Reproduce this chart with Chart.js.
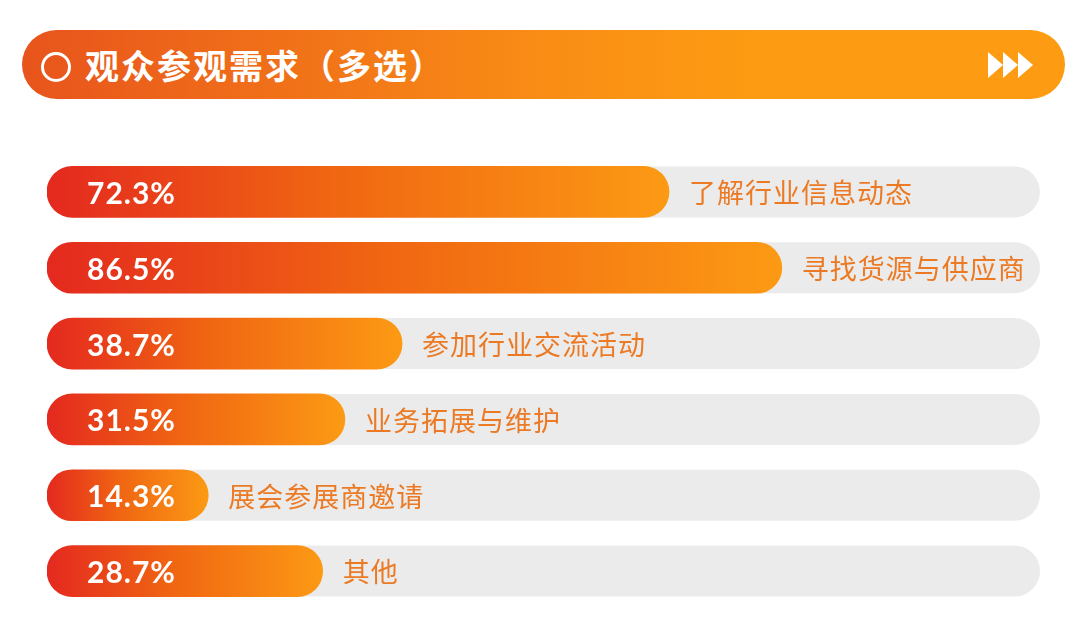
<!DOCTYPE html>
<html>
<head>
<meta charset="utf-8">
<script src="https://cdn.jsdelivr.net/npm/chart.js@4.4.0/dist/chart.umd.min.js"></script>
<style>
  body { margin: 0; width: 1080px; height: 630px; background: #fff; position: relative; overflow: hidden; font-family: "Noto Sans CJK SC", sans-serif; }
  .head { position: absolute; left: 22px; top: 30px; width: 1043px; height: 69px; border-radius: 35px;
          background: linear-gradient(90deg, #e8541c 0%, #f98d15 50%, #fd9b12 70%, #fd9b12 100%); }
  .ring { position: absolute; left: 19px; top: 22px; width: 24px; height: 24px; border: 3px solid #fff; border-radius: 50%; }
  .title { position: absolute; left: 63px; top: 0; line-height: 69px; font-size: 34px; font-weight: bold; color: #fff; letter-spacing: 2px; }
  .tri { position: absolute; top: 22px; width: 0; height: 0; border-left: 15px solid #fff; border-top: 13px solid transparent; border-bottom: 13px solid transparent; }
  .wrap { position: absolute; left: 0; top: 120px; width: 1080px; height: 510px; }
</style>
</head>
<body>
<div class="head">
  <div class="ring"></div>
  <div class="title">观众参观需求（多选）</div>
  <div class="tri" style="left:966px"></div>
  <div class="tri" style="left:981px"></div>
  <div class="tri" style="left:996px"></div>
</div>
<div class="wrap"><canvas id="needsChart"></canvas></div>
<script>
  // data
  const categories = ['了解行业信息动态', '寻找货源与供应商', '参加行业交流活动', '业务拓展与维护', '展会参展商邀请', '其他'];
  const shares = [72.3, 86.5, 38.7, 31.5, 14.3, 28.7];
  const axisMin = -6;
  const axisMax = 119;

  const barStops = ['#e4291f', '#f06512', '#fc9a14'];

  function barFill(c) {
    const chart = c.chart;
    const xs = chart.scales.x;
    if (!chart.chartArea || !xs || !c.parsed) return barStops[1];
    const x0 = xs.getPixelForValue(axisMin);
    const x1 = xs.getPixelForValue(c.parsed.x);
    const g = chart.ctx.createLinearGradient(x0, 0, x1, 0);
    g.addColorStop(0, barStops[0]);
    g.addColorStop(0.45, barStops[1]);
    g.addColorStop(1, barStops[2]);
    return g;
  }

  // grey track behind each bar
  const trackPlugin = {
    id: 'track',
    beforeDatasetsDraw(chart) {
      const { ctx, chartArea } = chart;
      const meta = chart.getDatasetMeta(0);
      ctx.save();
      ctx.fillStyle = '#ebebeb';
      meta.data.forEach(bar => {
        const h = bar.height;
        ctx.beginPath();
        ctx.roundRect(chartArea.left, bar.y - h / 2, chartArea.right - chartArea.left, h, h / 2);
        ctx.fill();
      });
      ctx.restore();
    }
  };

  const labelPlugin = {
    id: 'labels',
    afterDatasetsDraw(chart) {
      const { ctx, chartArea } = chart;
      const meta = chart.getDatasetMeta(0);
      ctx.save();
      meta.data.forEach((bar, i) => {
        ctx.fillStyle = '#fff';
        ctx.font = 'bold 30px Lato';
        ctx.letterSpacing = '1px';
        ctx.textBaseline = 'alphabetic';
        ctx.textAlign = 'left';
        ctx.fillText(shares[i].toFixed(1) + '%', chartArea.left + 40, bar.y + 12);
        ctx.fillStyle = '#ec7a24';
        ctx.font = '27px "Noto Sans CJK SC"';
        ctx.letterSpacing = '1px';
        ctx.textBaseline = 'middle';
        ctx.fillText(categories[i], bar.x + 20, bar.y + 1);
      });
      ctx.restore();
    }
  };

  const needsCtx = document.getElementById('needsChart').getContext('2d');
  const needsChart = new Chart(needsCtx, {
    type: 'bar',
    data: {
      labels: categories,
      datasets: [{
        data: shares,
        base: axisMin,
        backgroundColor: barFill,
        barThickness: 51,
        borderRadius: 26,
        borderSkipped: false,
      }]
    },
    options: {
      indexAxis: 'y',
      responsive: true,
      maintainAspectRatio: false,
      animation: false,
      layout: { padding: { left: 47, right: 40, top: 34, bottom: 21 } },
      plugins: { legend: { display: false }, tooltip: { enabled: false } },
      scales: {
        x: { display: false, min: axisMin, max: axisMax },
        y: { display: false }
      }
    },
    plugins: [trackPlugin, labelPlugin]
  });
</script>
</body>
</html>
